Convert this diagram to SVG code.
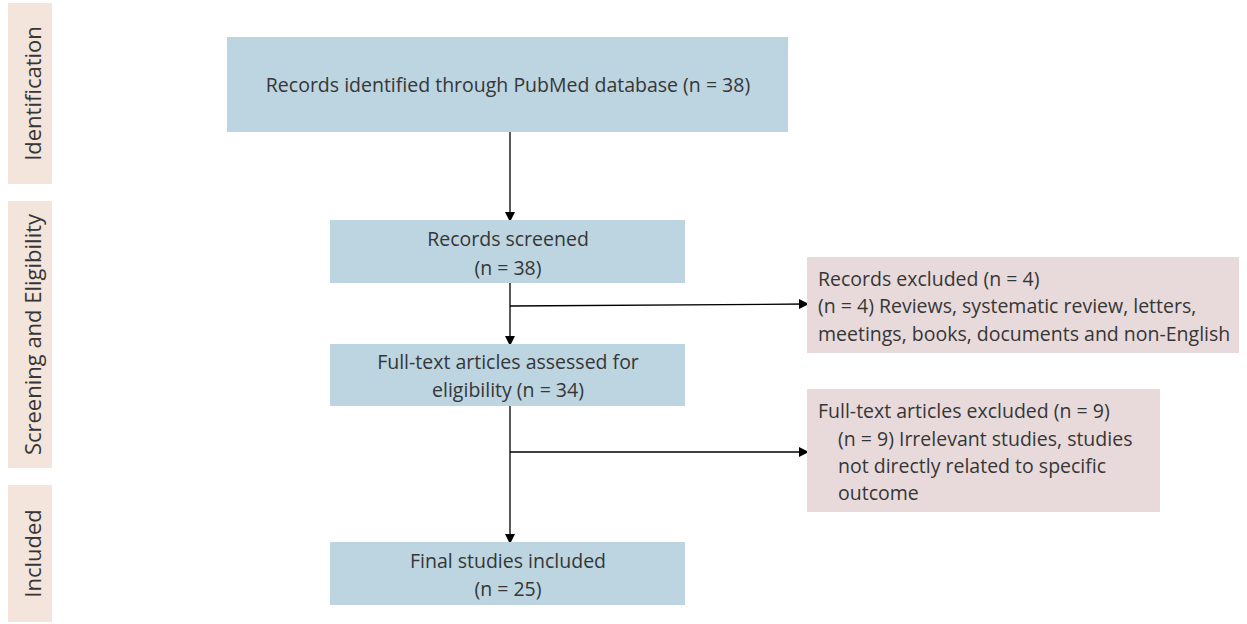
<svg xmlns="http://www.w3.org/2000/svg" width="1247" height="624" viewBox="0 0 1247 624">
<defs>
<style>
text{font-family:"Open Sans","Noto Sans","Liberation Sans",sans-serif;font-size:19.5px;fill:#363636}
.c{text-anchor:middle}
.sl{font-size:22px}
.blue{fill:#bcd5e1}
.pink{fill:#e8dada}
.side{fill:#f3e5dc}
.ln{stroke:#000;stroke-width:1.3;fill:none}
</style>
<marker id="ah" markerWidth="10" markerHeight="10" refX="8" refY="5" orient="auto" markerUnits="userSpaceOnUse">
<path d="M0,0 L10,5 L0,10 Z" fill="#000"/>
</marker>
</defs>
<rect width="1247" height="624" fill="#fff"/>
<g id="phase-identification">
<rect class="side" x="8" y="3" width="44" height="181"/>
<text class="c sl" transform="translate(41,93.5) rotate(-90)">Identification</text>
</g>
<g id="phase-screening">
<rect class="side" x="8" y="201" width="44" height="267"/>
<text class="c sl" transform="translate(41,334.5) rotate(-90)">Screening and Eligibility</text>
</g>
<g id="phase-included">
<rect class="side" x="8" y="485" width="44" height="137"/>
<text class="c sl" transform="translate(41,553.5) rotate(-90)">Included</text>
</g>
<g id="connectors">
<line class="ln" x1="510" y1="132" x2="510" y2="220" marker-end="url(#ah)"/>
<line class="ln" x1="510" y1="283" x2="510" y2="344" marker-end="url(#ah)"/>
<line class="ln" x1="510" y1="306" x2="807" y2="304" marker-end="url(#ah)"/>
<line class="ln" x1="510" y1="406" x2="510" y2="542" marker-end="url(#ah)"/>
<line class="ln" x1="510" y1="452" x2="807" y2="452" marker-end="url(#ah)"/>
</g>
<g id="node-identified">
<rect class="blue" x="227" y="37" width="561" height="95"/>
<text class="c" x="508" y="92">Records identified through PubMed database (n = 38)</text>
</g>
<g id="node-screened">
<rect class="blue" x="330" y="220" width="355" height="63"/>
<text class="c" x="508" y="246">Records screened</text>
<text class="c" x="508" y="275">(n = 38)</text>
</g>
<g id="node-fulltext">
<rect class="blue" x="330" y="344" width="355" height="62"/>
<text class="c" x="508" y="369">Full-text articles assessed for</text>
<text class="c" x="508" y="397">eligibility (n = 34)</text>
</g>
<g id="node-final">
<rect class="blue" x="330" y="542" width="355" height="63"/>
<text class="c" x="508" y="568">Final studies included</text>
<text class="c" x="508" y="596">(n = 25)</text>
</g>
<g id="node-records-excluded">
<rect class="pink" x="807" y="257" width="432" height="96"/>
<text x="818" y="286">Records excluded (n = 4)</text>
<text x="818" y="313">(n = 4) Reviews, systematic review, letters,</text>
<text x="818" y="341">meetings, books, documents and non-English</text>
</g>
<g id="node-fulltext-excluded">
<rect class="pink" x="807" y="389" width="353" height="123"/>
<text x="818" y="418">Full-text articles excluded (n = 9)</text>
<text x="838" y="446">(n = 9) Irrelevant studies, studies</text>
<text x="838" y="473">not directly related to specific</text>
<text x="838" y="500">outcome</text>
</g>
</svg>
